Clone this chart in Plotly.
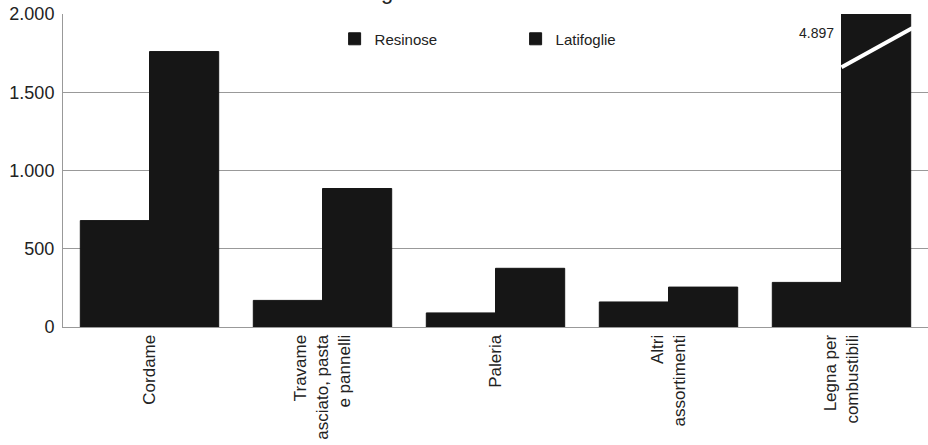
import plotly.graph_objects as go

categorie = ["Cordame", "Travame<br>asciato, pasta<br>e pannelli", "Paleria",
             "Altri<br>assortimenti", "Legna per<br>combustibili"]
resinose = [680, 170, 90, 160, 285]
latifoglie = [1760, 885, 375, 255, 4897]
tick_vals = [0, 500, 1000, 1500, 2000]
tick_text = ["0", "500", "1.000", "1.500", "2.000"]

font = "Liberation Sans, Arial, sans-serif"
nero = "#161616"

fig = go.Figure()
fig.add_trace(go.Bar(x=categorie, y=resinose, name="Resinose",
                     marker=dict(color=nero, line=dict(width=1, color=nero))))
fig.add_trace(go.Bar(x=categorie, y=latifoglie, name="Latifoglie",
                     marker=dict(color=nero, line=dict(width=1, color=nero))))

# barra fuori scala: segno di interruzione e valore
i = len(categorie) - 1
fig.add_shape(type="line", xref="x", yref="y",
              x0=i, x1=i + 0.41, y0=1660, y1=1910,
              line=dict(color="white", width=4))
fig.add_annotation(x=i, y=1880, xref="x", yref="y", text="4.897",
                   showarrow=False, xanchor="right", xshift=-6,
                   font=dict(family=font, size=14, color="#222"))
# resto del titolo tagliato
fig.add_annotation(x=0.375, y=1, xref="paper", yref="paper", text="g",
                   showarrow=False, yanchor="bottom", yshift=8,
                   font=dict(family=font, size=22, color="#222"))

fig.update_layout(
    width=928, height=445,
    margin=dict(l=63, r=0, t=14, b=118, autoexpand=False),
    paper_bgcolor="white", plot_bgcolor="white",
    barmode="group", bargap=0.2, bargroupgap=0,
    font=dict(family=font, color="#222"),
    legend=dict(orientation="h", x=0.314, y=0.92, xanchor="left", yanchor="middle",
                font=dict(size=15), entrywidth=136, bgcolor="rgba(0,0,0,0)"),
    xaxis=dict(showline=True, linecolor="#999", linewidth=1, tickangle=-90,
               tickfont=dict(size=17), ticks="", showgrid=False, automargin=False),
    yaxis=dict(range=[0, 2000], tickvals=tick_vals, ticktext=tick_text,
               showgrid=True, gridcolor="#999", gridwidth=1,
               showline=True, linecolor="#999", linewidth=1, ticklabelstandoff=4,
               tickfont=dict(size=18), ticks="", zeroline=False, automargin=False),
)

fig.write_html("out.html", config={"displayModeBar": False},
               post_script="document.body.style.margin='0';")
